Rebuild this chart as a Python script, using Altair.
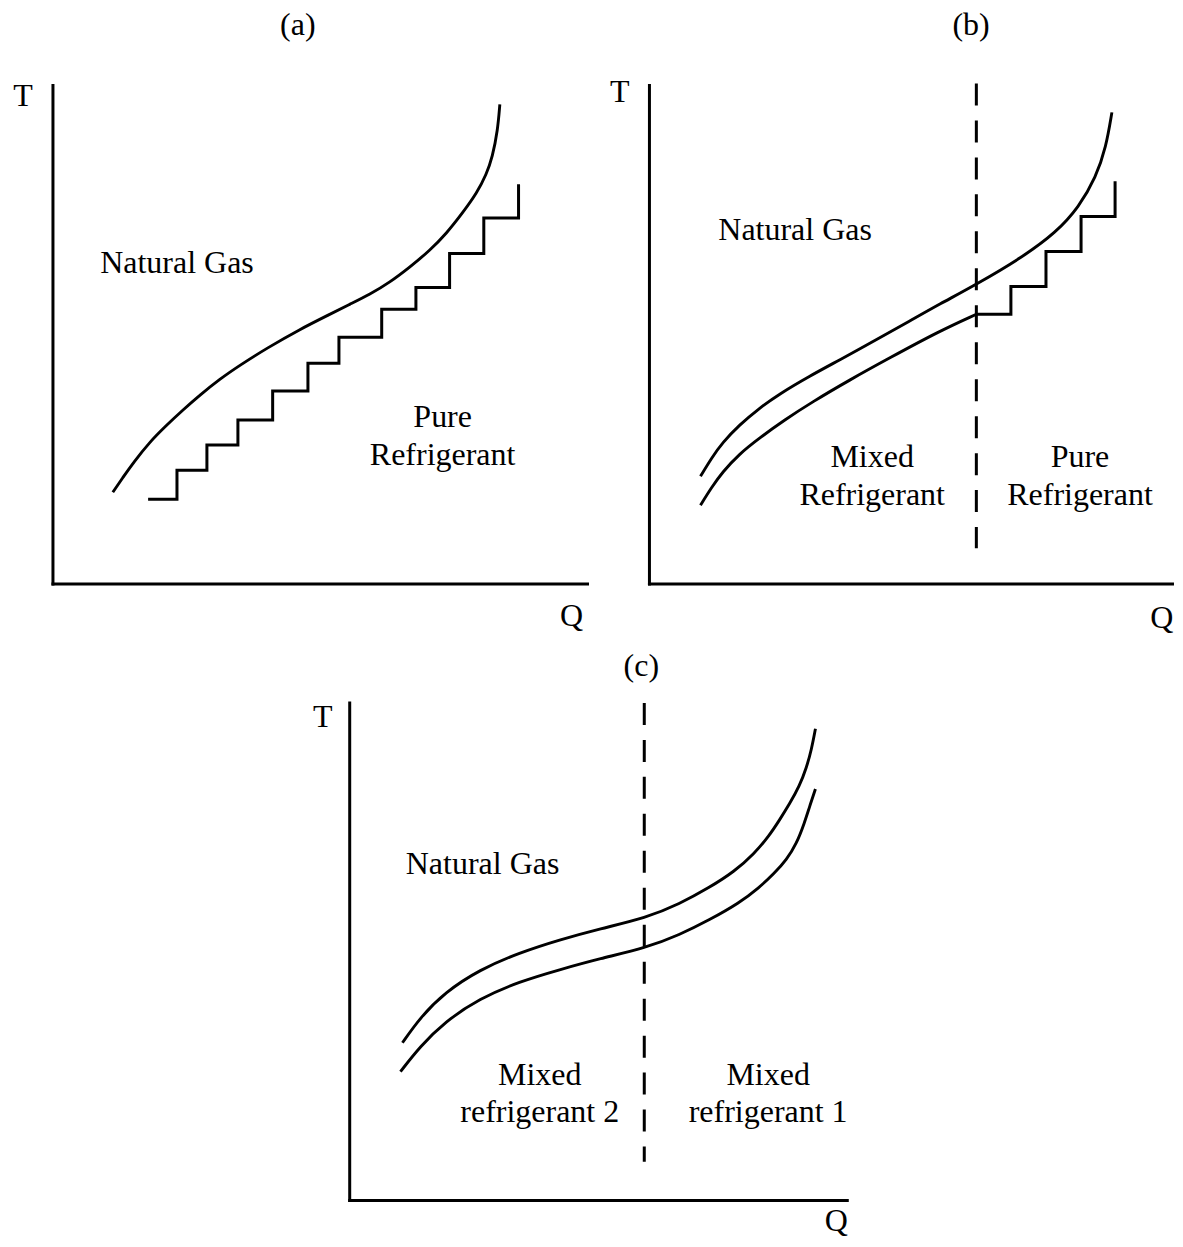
import altair as alt
import pandas as pd

FONT = "Liberation Serif"
FONT_SIZE = 32
INK = "black"

# ---------------- Panel (a) ----------------
a_axis_q = [0, 100]
a_axis_t = [0, 100]
a_gas_q = [11.2, 13.1, 15.0, 18.1, 21.3, 24.3, 27.5, 31.2, 35.0, 40.0, 46.2, 51.8, 55.5, 59.3,
           63.0, 66.7, 70.5, 73.6, 76.6, 79.3, 81.1, 82.2, 83.2, 83.6]
a_gas_t = [18.4, 21.4, 24.3, 28.5, 31.9, 34.9, 37.9, 41.1, 43.9, 47.3, 51.1, 54.1, 56.1, 58.1,
           60.5, 63.5, 66.9, 70.3, 74.4, 78.4, 82.2, 85.6, 91.0, 96.2]
a_step_q = [17.8, 23.2, 28.8, 34.6, 41.1, 47.7, 53.5, 61.5, 67.9, 74.2, 80.6, 87.1]
a_step_t = [17.0, 22.8, 27.9, 32.9, 38.7, 44.3, 49.5, 55.1, 59.5, 66.3, 73.4, 80.2]
a_text = ["(a)", "T", "Q", "Natural Gas", "Pure", "Refrigerant"]
a_text_q = [45.8, -5.6, 97.0, 23.2, 72.9, 72.9]
a_text_t = [110.2, 95.8, -8.4, 62.3, 31.5, 23.8]

# ---------------- Panel (b) ----------------
b_axis_q = [0, 98.4]
b_axis_t = [0, 100]
b_gas_q = [9.6, 11.7, 13.7, 16.9, 20.7, 24.4, 30.1, 35.7, 43.2, 48.9, 54.5, 61.5, 70.1, 76.5,
           80.8, 84.0, 85.9, 87.0]
b_gas_t = [21.6, 25.3, 28.3, 31.9, 35.3, 38.1, 41.7, 44.9, 49.3, 52.7, 56.1, 60.1, 65.5, 70.5,
           75.6, 81.6, 87.6, 94.6]
b_mr_q = [9.6, 11.7, 13.7, 16.9, 20.7, 25.4, 30.6, 37.6, 45.1, 54.5, 61.5]
b_mr_t = [15.8, 19.4, 22.4, 26.1, 29.3, 32.9, 36.5, 40.9, 45.3, 50.7, 54.1]
b_step_q = [61.5, 68.0, 74.6, 81.2, 87.6]
b_step_t = [54.1, 59.7, 66.7, 73.7, 80.8]
b_split_q = [61.5]
b_split_t = [100.4]
b_split_t2 = [7.2]
b_text = ["(b)", "T", "Q", "Natural Gas", "Mixed", "Refrigerant", "Pure", "Refrigerant"]
b_text_q = [60.5, -5.6, 96.4, 27.4, 41.9, 41.9, 81.0, 81.0]
b_text_t = [110.2, 96.6, -8.8, 69.1, 23.4, 15.8, 23.4, 15.8]

# ---------------- Panel (c) ----------------
c_axis_q = [0, 100]
c_axis_t = [0, 100]
c_gas_q = [10.6, 14.1, 19.1, 26.1, 34.1, 42.2, 50.2, 59.6, 66.3, 72.3, 77.3, 81.3, 84.3, 86.4,
           88.4, 90.4, 91.8, 92.8, 93.6]
c_gas_t = [31.7, 36.7, 41.8, 46.4, 49.8, 52.4, 54.6, 56.8, 59.6, 62.9, 66.1, 69.7, 73.3, 76.5,
           79.7, 83.3, 87.0, 90.6, 94.8]
c_mr_q = [10.2, 14.1, 19.1, 26.1, 34.1, 42.2, 50.2, 59.6, 66.3, 72.3, 78.3, 82.3, 85.3, 87.8,
          89.8, 91.4, 92.4, 93.6]
c_mr_t = [25.9, 30.9, 35.9, 40.6, 44.0, 46.4, 48.6, 50.8, 53.4, 56.4, 59.8, 62.9, 65.7, 68.5,
          71.7, 75.9, 79.1, 82.7]
c_split_q = [59.2]
c_split_t = [100.0]
c_split_t2 = [7.8]
c_text = ["(c)", "T", "Q", "Natural Gas", "Mixed", "refrigerant 2", "Mixed", "refrigerant 1"]
c_text_q = [58.6, -5.4, 97.8, 26.7, 38.2, 38.2, 84.1, 84.1]
c_text_t = [105.4, 95.2, -6.2, 65.7, 23.3, 15.7, 23.3, 15.7]


def panel(width, height, left, bottom, px_q, px_t, axis_q, axis_t, curves, steps, split, labels):
    """One schematic T-Q panel. left/bottom: axis origin inside the panel (px);
    px_q/px_t: pixels per axis unit."""
    x_dom = [-left / px_q, (width - left) / px_q]
    y_dom = [-(height - bottom) / px_t, bottom / px_t]
    xs = alt.Scale(domain=x_dom, nice=False, zero=False)
    ys = alt.Scale(domain=y_dom, nice=False, zero=False)

    axes_df = pd.DataFrame({"q": [axis_q[0], axis_q[0]], "t": [axis_t[0], axis_t[0]],
                            "q2": [axis_q[1], axis_q[0]], "t2": [axis_t[0], axis_t[1]]})
    layers = [
        alt.Chart(axes_df).mark_rule(color=INK, strokeWidth=3, strokeCap="square").encode(
            x=alt.X("q:Q", scale=xs, axis=None),
            y=alt.Y("t:Q", scale=ys, axis=None),
            x2="q2:Q", y2="t2:Q")
    ]
    for cq, ct in curves:
        df = pd.DataFrame({"q": cq, "t": ct})
        layers.append(alt.Chart(df).mark_line(color=INK, strokeWidth=2.9, interpolate="basis").encode(
            x=alt.X("q:Q", scale=xs, axis=None), y=alt.Y("t:Q", scale=ys, axis=None)))
    if steps is not None:
        df = pd.DataFrame({"q": steps[0], "t": steps[1]})
        layers.append(alt.Chart(df).mark_line(color=INK, strokeWidth=3, interpolate="step-after").encode(
            x=alt.X("q:Q", scale=xs, axis=None), y=alt.Y("t:Q", scale=ys, axis=None)))
    if split is not None:
        df = pd.DataFrame({"q": split[0], "t": split[1], "t2": split[2]})
        layers.append(alt.Chart(df).mark_rule(color=INK, strokeWidth=3, strokeDash=[22, 15]).encode(
            x=alt.X("q:Q", scale=xs, axis=None), y=alt.Y("t:Q", scale=ys, axis=None), y2="t2:Q"))
    df = pd.DataFrame({"q": labels[1], "t": labels[2], "label": labels[0]})
    layers.append(alt.Chart(df).mark_text(font=FONT, fontSize=FONT_SIZE, color=INK,
                                          align="center", baseline="alphabetic").encode(
        x=alt.X("q:Q", scale=xs, axis=None), y=alt.Y("t:Q", scale=ys, axis=None), text="label:N"))
    return alt.layer(*layers).properties(width=width, height=height)


chart_a = panel(602, 640, 45, 576, 5.35, 4.99, a_axis_q, a_axis_t,
                [(a_gas_q, a_gas_t)], (a_step_q, a_step_t), None,
                (a_text, a_text_q, a_text_t))
chart_b = panel(565, 640, 40, 576, 5.32, 4.99, b_axis_q, b_axis_t,
                [(b_gas_q, b_gas_t), (b_mr_q, b_mr_t)], (b_step_q, b_step_t),
                (b_split_q, b_split_t, b_split_t2),
                (b_text, b_text_q, b_text_t))
# panel (c) sits under panel (a)'s column; its drawing runs on past that column to the right
chart_c = panel(602, 591, 342, 553, 4.98, 4.98, c_axis_q, c_axis_t,
                [(c_gas_q, c_gas_t), (c_mr_q, c_mr_t)], None,
                (c_split_q, c_split_t, c_split_t2),
                (c_text, c_text_q, c_text_t))

chart = alt.concat(chart_a, chart_b, chart_c, columns=2, spacing=0,
                   bounds="flush").properties(
    padding=0, background="white"
).configure_view(stroke=None)

chart.save("out.html", embed_options={"renderer": "svg", "actions": False})
